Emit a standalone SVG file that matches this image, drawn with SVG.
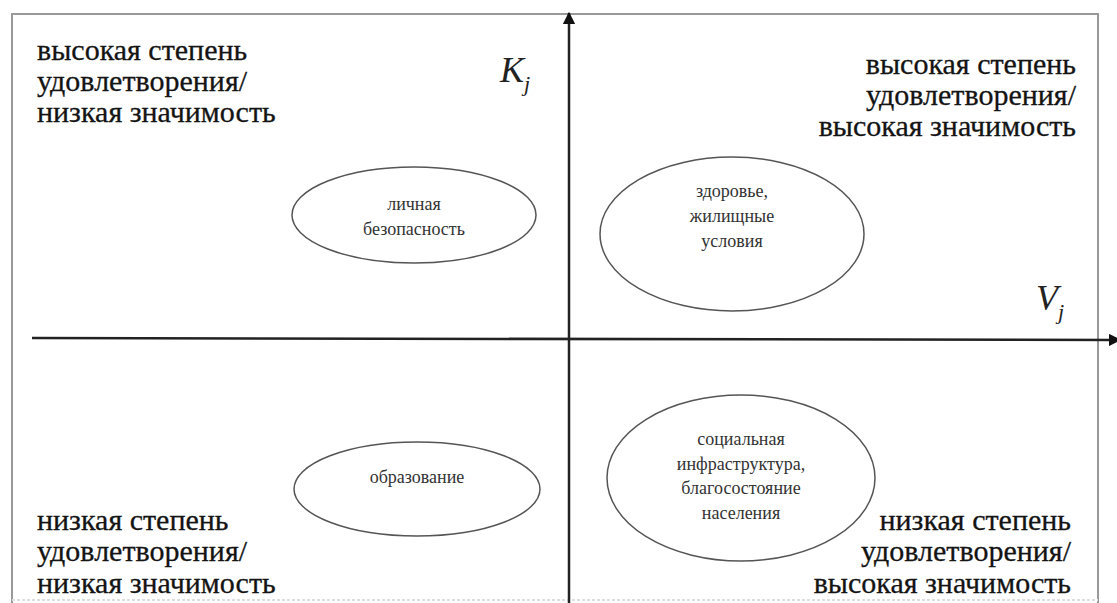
<svg xmlns="http://www.w3.org/2000/svg" width="1117" height="603" viewBox="0 0 1117 603">
<defs>
<marker id="arr" viewBox="0 0 10 10" refX="9" refY="5" markerWidth="5" markerHeight="5" orient="auto" markerUnits="strokeWidth">
<path d="M0,0 L10,5 L0,10 z" fill="#111"/>
</marker>
</defs>
<style>
.big{font-size:30px;fill:#141414;stroke:#141414;stroke-width:0.3}
.sm{font-size:18px;fill:#333;text-anchor:middle}
.var{font-style:italic;fill:#222}
.ell{fill:none;stroke:#555;stroke-width:1.5}
.axis{stroke:#222;stroke-width:2.5;fill:none}
.frame{fill:none;stroke:#999;stroke-width:2}
</style>
<rect width="1117" height="603" fill="#fff"/>
<g id="frame">
<path class="frame" d="M12,603 L12,14 L1098,14 L1098,603"/>
<line x1="12" y1="600" x2="1098" y2="600" stroke="#ddd" stroke-width="2" stroke-dasharray="3,2"/>
</g>
<g id="connectors">
<line class="axis" x1="569" y1="603" x2="569" y2="13" marker-end="url(#arr)"/>
<line class="axis" x1="32" y1="338" x2="1120" y2="340" marker-end="url(#arr)"/>
</g>
<g id="axis-labels">
<text class="var" font-family="Liberation Serif, DejaVu Serif, serif" x="500" y="82" font-size="36">K<tspan font-size="22" dy="9">j</tspan></text>
<text class="var" font-family="Liberation Serif, DejaVu Serif, serif" x="1036" y="310" font-size="36">V<tspan font-size="22" dy="9">j</tspan></text>
</g>
<g id="q-top-left">
<text class="big" font-family="Liberation Serif, DejaVu Serif, serif"><tspan x="37" y="60">высокая степень</tspan><tspan x="37" y="91">удовлетворения/</tspan><tspan x="37" y="122">низкая значимость</tspan></text>
</g>
<g id="q-top-right">
<text class="big" font-family="Liberation Serif, DejaVu Serif, serif" text-anchor="end"><tspan x="1076" y="74">высокая степень</tspan><tspan x="1076" y="105">удовлетворения/</tspan><tspan x="1076" y="136">высокая значимость</tspan></text>
</g>
<g id="q-bottom-left">
<text class="big" font-family="Liberation Serif, DejaVu Serif, serif"><tspan x="37" y="530">низкая степень</tspan><tspan x="37" y="561">удовлетворения/</tspan><tspan x="37" y="593">низкая значимость</tspan></text>
</g>
<g id="q-bottom-right">
<text class="big" font-family="Liberation Serif, DejaVu Serif, serif" text-anchor="end"><tspan x="1071" y="530">низкая степень</tspan><tspan x="1071" y="561">удовлетворения/</tspan><tspan x="1071" y="593">высокая значимость</tspan></text>
</g>
<g id="node-safety">
<ellipse class="ell" cx="414" cy="215" rx="122" ry="48"/>
<text class="sm" font-family="Liberation Serif, DejaVu Serif, serif"><tspan x="414" y="210">личная</tspan><tspan x="414" y="235">безопасность</tspan></text>
</g>
<g id="node-health">
<ellipse class="ell" cx="732" cy="234" rx="132" ry="77"/>
<text class="sm" font-family="Liberation Serif, DejaVu Serif, serif"><tspan x="732" y="197">здоровье,</tspan><tspan x="732" y="222">жилищные</tspan><tspan x="732" y="247">условия</tspan></text>
</g>
<g id="node-education">
<ellipse class="ell" cx="417" cy="489" rx="123" ry="47"/>
<text class="sm" font-family="Liberation Serif, DejaVu Serif, serif" x="417" y="483">образование</text>
</g>
<g id="node-social">
<ellipse class="ell" cx="741" cy="478" rx="134" ry="83"/>
<text class="sm" font-family="Liberation Serif, DejaVu Serif, serif"><tspan x="741" y="445">социальная</tspan><tspan x="741" y="470">инфраструктура,</tspan><tspan x="741" y="494">благосостояние</tspan><tspan x="741" y="519">населения</tspan></text>
</g>
</svg>
